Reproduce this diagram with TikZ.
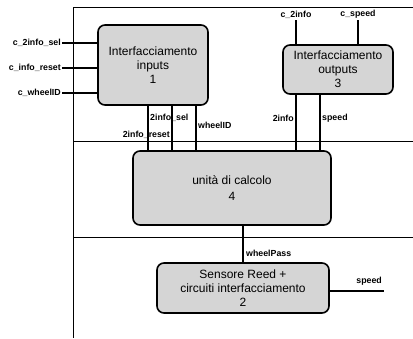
\documentclass[tikz,border=0pt]{standalone}
\usepackage{fontspec}
\setmainfont{Liberation Sans}
\tikzset{
  blok/.style={draw, line width=1.6pt, rounded corners=7pt, fill=gray!33, align=center, font=\fontsize{12}{14}\selectfont},
  sig/.style={line width=1.6pt},
  lab/.style={font=\bfseries\fontsize{8.8}{10}\selectfont, inner sep=1pt},
}
\begin{document}
\begin{tikzpicture}[x=1pt, y=-1pt]
  \useasboundingbox (0,0) rectangle (413,338);

  % frame
  \draw[line width=0.8pt] (413,7) -- (73,7) -- (73,338);
  \draw[line width=0.8pt] (73,141) -- (413,141);
  \draw[line width=0.8pt] (73,237) -- (413,237);

  % blocks
  \node[blok, minimum width=110pt, minimum height=80pt] (inp) at (153,65) {Interfacciamento\\inputs\\1};
  \node[blok, minimum width=110pt, minimum height=49pt] (outp) at (338,69.5) {Interfacciamento\\outputs\\3};
  \node[blok, minimum width=198pt, minimum height=74pt] (calc) at (232,188) {unit\`a di calcolo\\[2pt]4};
  \node[blok, minimum width=172pt, minimum height=50pt] (reed) at (243,288) {Sensore Reed +\\circuiti interfacciamento\\2};

  % inputs
  \foreach \y/\t [count=\i] in {43/c\_2info\_sel, 68/c\_info\_reset, 93/c\_wheelID} {
    \coordinate (in\i) at (62,\y);
    \node[lab, anchor=east] (inl\i) at (in\i) {\t};
    \draw[sig] (in\i) -- (in\i -| inp.west);
  }

  % block 1 -> block 4
  \foreach \x [count=\i] in {148,172,196} {
    \coordinate (a\i) at (\x,0);
    \draw[sig] (a\i |- inp.south) -- (a\i |- calc.north);
  }
  \node[lab, anchor=west] (l2sel) at (149,118) {2info\_sel};
  \node[lab, anchor=east] (l2res) at (171,135) {2info\_reset};
  \node[lab, anchor=west] (lwid) at (197,125) {wheelID};

  % block 3
  \coordinate (c2i) at (296,20);
  \coordinate (csp) at (358,20);
  \draw[sig] (c2i) -- (c2i |- outp.north);
  \draw[sig] (csp) -- (csp |- outp.north);
  \node[lab, anchor=south] (lc2i) at (c2i) {c\_2info};
  \node[lab, anchor=south] (lcsp) at (csp) {c\_speed};
  \coordinate (b1) at (296,0);
  \coordinate (b2) at (320,0);
  \draw[sig] (b1 |- outp.south) -- (b1 |- calc.north);
  \draw[sig] (b2 |- outp.south) -- (b2 |- calc.north);
  \node[lab, anchor=east] (l2i) at (295,118) {2info};
  \node[lab, anchor=west] (lsp) at (321,118) {speed};

  % block 4 -> block 2
  \coordinate (wp) at (243,0);
  \draw[sig] (wp |- calc.south) -- (wp |- reed.north);
  \node[lab, anchor=west] (lwp) at (245,253) {wheelPass};
  \coordinate (sp) at (384,291);
  \draw[sig] (sp -| reed.east) -- (sp);
  \node[lab, anchor=south east] (lsp2) at (383,287) {speed};
\end{tikzpicture}
\end{document}
